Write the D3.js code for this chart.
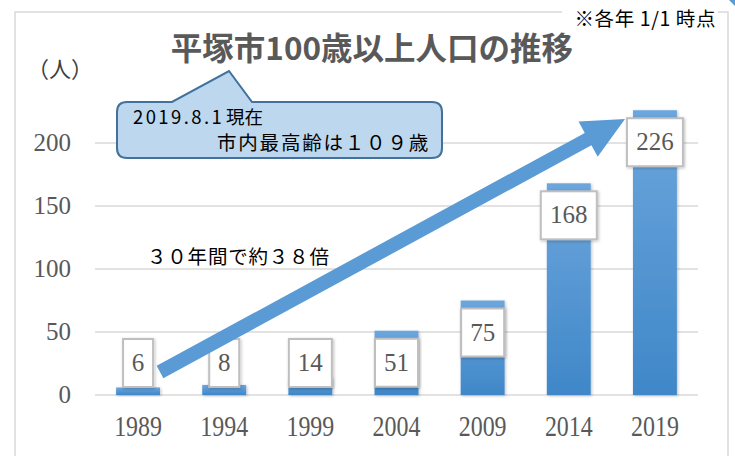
<!DOCTYPE html>
<html lang="ja">
<head>
<meta charset="utf-8">
<title>平塚市100歳以上人口の推移</title>
<style>
  body { margin: 0; background: #fff; }
  svg { display: block; }
  .serif { font-family: "Liberation Serif", "DejaVu Serif", serif; fill: #595959; }
  .jp { font-family: "Noto Sans CJK JP", "Noto Sans", sans-serif; }
</style>
<script src="https://d3js.org/d3.v7.min.js"></script>
</head>
<body>
<script>
const years = ["1989", "1994", "1999", "2004", "2009", "2014", "2019"];
const people = [6, 8, 14, 51, 75, 168, 226];
const yTicks = [0, 50, 100, 150, 200];

const W = 735, H = 456;
const svg = d3.select("body").append("svg")
  .attr("width", W).attr("height", H);

const defs = svg.append("defs");
const grad = defs.append("linearGradient")
  .attr("id", "barGrad").attr("x1", 0).attr("y1", 0).attr("x2", 0).attr("y2", 1);
grad.append("stop").attr("offset", "0%").attr("stop-color", "#6ca6dd");
grad.append("stop").attr("offset", "100%").attr("stop-color", "#3f87c8");

const shadow = defs.append("filter").attr("id", "shadow")
  .attr("x", "-20%").attr("y", "-20%").attr("width", "140%").attr("height", "140%");
shadow.append("feDropShadow").attr("dx", 1).attr("dy", 1)
  .attr("stdDeviation", 1.5).attr("flood-color", "#000").attr("flood-opacity", 0.25);

// outer frame
svg.append("rect")
  .attr("x", 15).attr("y", 12).attr("width", 713).attr("height", 470)
  .attr("fill", "none").attr("stroke", "#d9d9d9").attr("stroke-width", 1.5);

// corner mark
svg.append("path").attr("d", "M729,0 L735,0 L735,6 Z").attr("fill", "#5b9bd5");

const x = d3.scaleBand().domain(years).range([95, 698]).paddingInner(0.49).paddingOuter(0.245);
const y = d3.scaleLinear().domain([0, 200]).range([395, 143]);

// grid
svg.append("g").selectAll("line").data(yTicks).join("line")
  .attr("x1", 95).attr("x2", 698)
  .attr("y1", d => y(d)).attr("y2", d => y(d))
  .attr("stroke", "#d9d9d9").attr("stroke-width", 1.5);

// y labels
svg.append("g").selectAll("text").data(yTicks).join("text")
  .attr("class", "serif")
  .attr("x", 71).attr("y", d => y(d) + 8)
  .attr("text-anchor", "end")
  .attr("font-size", 25)
  .text(d => d);

// x labels
svg.append("g").selectAll("text").data(years).join("text")
  .attr("class", "serif")
  .attr("text-anchor", "middle")
  .attr("font-size", 26)
  .attr("transform", d => `translate(${x(d) + x.bandwidth() / 2},436) scale(0.92,1.15)`)
  .text(d => d);

// bars
svg.append("g").selectAll("rect").data(people).join("rect")
  .attr("x", (d, i) => x(years[i]))
  .attr("width", x.bandwidth())
  .attr("y", d => y(d))
  .attr("height", d => y(0) - y(d))
  .attr("fill", "url(#barGrad)")
  .attr("filter", "url(#shadow)");

// data labels
const lab = svg.append("g").selectAll("g").data(people).join("g")
  .attr("transform", (d, i) => {
    const top = Math.min(y(d) + 8, y(0) - 56);
    return `translate(${x(years[i]) + x.bandwidth() / 2},${top})`;
  });
lab.append("rect")
  .attr("x", d => -(String(d).length * 13 + 17) / 2)
  .attr("width", d => String(d).length * 13 + 17)
  .attr("y", 0).attr("height", 48)
  .attr("fill", "#fff").attr("stroke", "#bfbfbf").attr("stroke-width", 2)
  .attr("filter", "url(#shadow)");
lab.append("text")
  .attr("class", "serif")
  .attr("text-anchor", "middle")
  .attr("y", 32)
  .attr("font-size", 25)
  .text(d => d);

// arrow
(function () {
  const x0 = 160, y0 = 372, x1 = 625, y1 = 119;
  const sw = 14, hw = 40, hl = 42;
  const dx = x1 - x0, dy = y1 - y0, L = Math.hypot(dx, dy);
  const ux = dx / L, uy = dy / L, px = -uy, py = ux;
  const bx = x1 - ux * hl, by = y1 - uy * hl;
  const pts = [
    [x0 + px * sw / 2, y0 + py * sw / 2],
    [bx + px * sw / 2, by + py * sw / 2],
    [bx + px * hw / 2, by + py * hw / 2],
    [x1, y1],
    [bx - px * hw / 2, by - py * hw / 2],
    [bx - px * sw / 2, by - py * sw / 2],
    [x0 - px * sw / 2, y0 - py * sw / 2]
  ];
  svg.append("path")
    .attr("d", d3.line()(pts) + "Z")
    .attr("fill", "#5b9bd5");
})();

// callout
svg.append("path")
  .attr("d", "M127,102 L172,102 L229,71 L252,102 L432,102 Q442,102 442,112 L442,148 Q442,158 432,158 L127,158 Q117,158 117,148 L117,112 Q117,102 127,102 Z")
  .attr("fill", "#bdd7ee").attr("stroke", "#41719c").attr("stroke-width", 2);
const line1 = svg.append("text").attr("class", "jp")
  .attr("x", 133).attr("y", 124).attr("fill", "#000").attr("font-size", 18.5);
line1.append("tspan").attr("letter-spacing", 2.4).text("2019.8.1");
line1.append("tspan").attr("dx", 2).text("現在");
svg.append("text").attr("class", "jp")
  .attr("x", 217).attr("y", 150).attr("font-size", 19.5).attr("fill", "#000")
  .attr("letter-spacing", 1.8)
  .text("市内最高齢は１０９歳");

// title
svg.append("text").attr("class", "jp")
  .attr("x", 372).attr("y", 60)
  .attr("text-anchor", "middle")
  .attr("font-size", 31.5).attr("font-weight", "bold").attr("fill", "#595959")
  .text("平塚市100歳以上人口の推移");

// unit
svg.append("text").attr("class", "jp")
  .attr("x", 27).attr("y", 77).attr("font-size", 22).attr("fill", "#404040")
  .text("（人）");

// note
svg.append("rect").attr("x", 562).attr("y", 6).attr("width", 156).attr("height", 22).attr("fill", "#fff");
svg.append("text").attr("class", "jp")
  .attr("x", 716).attr("y", 26).attr("text-anchor", "end")
  .attr("font-size", 19.5).attr("fill", "#000")
  .attr("letter-spacing", 0.6)
  .text("※各年 1/1 時点");

// growth text
svg.append("text").attr("class", "jp")
  .attr("x", 147).attr("y", 264).attr("font-size", 19.5).attr("fill", "#000")
  .attr("letter-spacing", 0.8)
  .text("３０年間で約３８倍");
</script>
</body>
</html>
